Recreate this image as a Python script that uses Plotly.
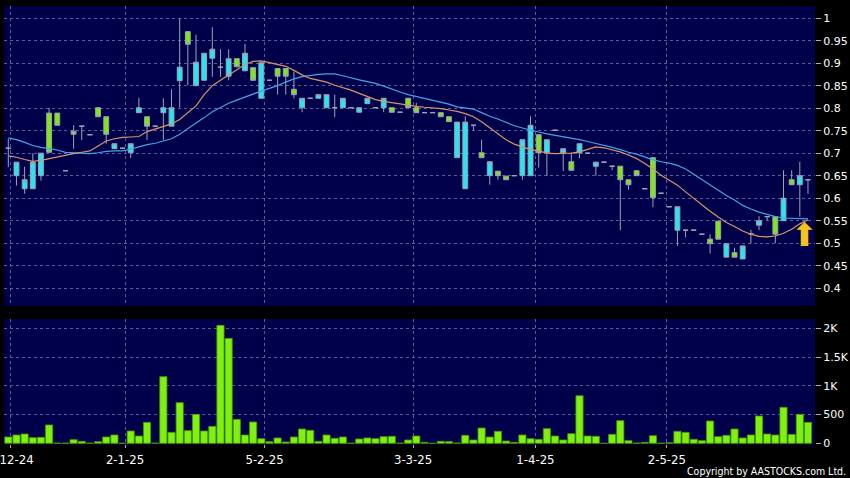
import plotly.graph_objects as go
from plotly.subplots import make_subplots

# ---------------- data ----------------
opens = [0.711, 0.650, 0.621, 0.621, 0.650, 0.789, 0.789, 0.661, 0.749, 0.760,
         0.741, 0.801, 0.781, 0.710, 0.711, 0.701, 0.790, 0.781, 0.760, 0.790,
         0.760, 0.861, 0.970, 0.850, 0.862, 0.911, 0.891, 0.871, 0.910, 0.883,
         0.890, 0.822, 0.862, 0.888, 0.888, 0.842, 0.801, 0.822, 0.822, 0.801,
         0.801, 0.801, 0.801, 0.791, 0.810, 0.801, 0.801, 0.801, 0.791, 0.822,
         0.801, 0.790, 0.790, 0.790, 0.781, 0.690, 0.621, 0.762, 0.701, 0.650,
         0.660, 0.649, 0.650, 0.650, 0.650, 0.741, 0.701, 0.751, 0.701, 0.681,
         0.701, 0.700, 0.671, 0.680, 0.671, 0.671, 0.641, 0.661, 0.621, 0.690,
         0.611, 0.581, 0.529, 0.529, 0.529, 0.520, 0.509, 0.549, 0.469, 0.479,
         0.465, 0.521, 0.540, 0.559, 0.559, 0.550, 0.641, 0.630, 0.641]
highs = [0.732, 0.680, 0.670, 0.700, 0.700, 0.801, 0.789, 0.661, 0.762, 0.760,
         0.741, 0.801, 0.781, 0.721, 0.711, 0.721, 0.823, 0.781, 0.760, 0.822,
         0.842, 1.000, 0.970, 0.963, 0.922, 0.980, 0.931, 0.931, 0.910, 0.943,
         0.890, 0.901, 0.862, 0.888, 0.888, 0.881, 0.822, 0.822, 0.830, 0.830,
         0.830, 0.822, 0.801, 0.801, 0.822, 0.801, 0.822, 0.801, 0.791, 0.822,
         0.812, 0.790, 0.790, 0.790, 0.781, 0.769, 0.782, 0.762, 0.730, 0.681,
         0.660, 0.649, 0.650, 0.730, 0.782, 0.741, 0.730, 0.751, 0.710, 0.701,
         0.721, 0.700, 0.680, 0.680, 0.671, 0.671, 0.641, 0.661, 0.621, 0.690,
         0.611, 0.581, 0.581, 0.529, 0.529, 0.520, 0.520, 0.549, 0.499, 0.490,
         0.494, 0.530, 0.560, 0.559, 0.559, 0.662, 0.662, 0.681, 0.641]
lows = [0.669, 0.628, 0.610, 0.621, 0.639, 0.702, 0.762, 0.661, 0.710, 0.729,
        0.741, 0.781, 0.721, 0.710, 0.711, 0.689, 0.790, 0.729, 0.760, 0.729,
        0.760, 0.801, 0.851, 0.850, 0.862, 0.870, 0.870, 0.862, 0.892, 0.883,
        0.862, 0.822, 0.862, 0.830, 0.830, 0.822, 0.791, 0.822, 0.822, 0.801,
        0.780, 0.801, 0.801, 0.791, 0.810, 0.801, 0.791, 0.791, 0.791, 0.801,
        0.790, 0.790, 0.790, 0.781, 0.770, 0.690, 0.621, 0.751, 0.690, 0.630,
        0.641, 0.641, 0.650, 0.641, 0.650, 0.668, 0.649, 0.751, 0.660, 0.662,
        0.689, 0.700, 0.650, 0.680, 0.662, 0.529, 0.619, 0.650, 0.621, 0.580,
        0.611, 0.581, 0.494, 0.513, 0.529, 0.520, 0.477, 0.509, 0.469, 0.469,
        0.465, 0.499, 0.529, 0.550, 0.500, 0.550, 0.630, 0.559, 0.610]
closes = [0.711, 0.680, 0.641, 0.680, 0.700, 0.702, 0.762, 0.661, 0.742, 0.760,
          0.741, 0.781, 0.742, 0.721, 0.711, 0.721, 0.801, 0.760, 0.760, 0.801,
          0.801, 0.891, 0.942, 0.902, 0.922, 0.931, 0.891, 0.910, 0.892, 0.922,
          0.862, 0.901, 0.862, 0.871, 0.871, 0.830, 0.822, 0.822, 0.830, 0.830,
          0.801, 0.822, 0.801, 0.801, 0.822, 0.801, 0.822, 0.791, 0.791, 0.801,
          0.790, 0.790, 0.790, 0.781, 0.770, 0.769, 0.769, 0.762, 0.690, 0.681,
          0.650, 0.641, 0.650, 0.730, 0.762, 0.701, 0.730, 0.751, 0.710, 0.662,
          0.721, 0.700, 0.680, 0.680, 0.671, 0.641, 0.630, 0.650, 0.621, 0.601,
          0.611, 0.581, 0.581, 0.529, 0.529, 0.520, 0.499, 0.509, 0.499, 0.469,
          0.494, 0.521, 0.550, 0.559, 0.520, 0.600, 0.630, 0.650, 0.641]
volumes = [110, 145, 162, 98, 104, 319, 5, 5, 64, 35,
           3, 29, 110, 145, 3, 214, 127, 365, 3, 1159,
           191, 707, 220, 504, 214, 295, 2051, 1825, 417, 145,
           371, 81, 29, 93, 23, 110, 249, 226, 35, 145,
           87, 110, 3, 75, 93, 81, 116, 122, 3, 58,
           127, 17, 0, 35, 30, 5, 139, 58, 266, 110,
           209, 40, 17, 145, 81, 70, 255, 127, 58, 168,
           828, 127, 122, 0, 156, 394, 46, 5, 17, 133,
           3, 10, 209, 191, 70, 46, 388, 116, 139, 249,
           93, 145, 475, 162, 145, 626, 156, 504, 365]
ma_short = [0.694, 0.691, 0.686, 0.682, 0.684, 0.688, 0.692, 0.696, 0.699, 0.702,
            0.705, 0.716, 0.727, 0.732, 0.735, 0.736, 0.737, 0.748, 0.754, 0.759,
            0.765, 0.775, 0.790, 0.805, 0.830, 0.850, 0.862, 0.874, 0.886, 0.897,
            0.904, 0.905, 0.901, 0.897, 0.893, 0.884, 0.874, 0.866, 0.862, 0.858,
            0.851, 0.846, 0.840, 0.833, 0.826, 0.819, 0.815, 0.812, 0.810, 0.806,
            0.804, 0.802, 0.801, 0.799, 0.796, 0.793, 0.788, 0.781, 0.770, 0.757,
            0.744, 0.730, 0.720, 0.714, 0.708, 0.705, 0.700, 0.699, 0.700, 0.700,
            0.703, 0.709, 0.714, 0.712, 0.708, 0.703, 0.696, 0.688, 0.677, 0.665,
            0.651, 0.640, 0.629, 0.614, 0.599, 0.584, 0.571, 0.558, 0.546, 0.537,
            0.527, 0.520, 0.515, 0.514, 0.516, 0.522, 0.531, 0.543, 0.552]
ma_long = [0.734, 0.730, 0.724, 0.717, 0.713, 0.710, 0.707, 0.702, 0.701, 0.700,
           0.699, 0.701, 0.704, 0.705, 0.705, 0.709, 0.714, 0.719, 0.722, 0.727,
           0.732, 0.742, 0.755, 0.766, 0.779, 0.792, 0.802, 0.811, 0.818, 0.825,
           0.831, 0.838, 0.844, 0.850, 0.858, 0.865, 0.870, 0.873, 0.875, 0.876,
           0.876, 0.872, 0.867, 0.863, 0.859, 0.855, 0.849, 0.842, 0.836, 0.830,
           0.826, 0.822, 0.818, 0.814, 0.809, 0.803, 0.800, 0.798, 0.790, 0.782,
           0.776, 0.769, 0.761, 0.756, 0.751, 0.747, 0.743, 0.740, 0.736, 0.733,
           0.730, 0.726, 0.722, 0.718, 0.713, 0.708, 0.702, 0.698, 0.691, 0.685,
           0.681, 0.678, 0.673, 0.665, 0.653, 0.641, 0.629, 0.618, 0.606, 0.596,
           0.584, 0.576, 0.569, 0.564, 0.559, 0.556, 0.555, 0.554, 0.554]

date_tick_pos = [0.3, 14.3, 31.4, 49.6, 64.6, 80.7]
date_tick_text = ["2-12-24", "2-1-25", "5-2-25", "3-3-25", "1-4-25", "2-5-25"]
price_ticks = [0.4, 0.45, 0.5, 0.55, 0.6, 0.65, 0.7, 0.75, 0.8, 0.85, 0.9, 0.95, 1.0]
price_tick_text = ["0.4", "0.45", "0.5", "0.55", "0.6", "0.65", "0.7", "0.75",
                   "0.8", "0.85", "0.9", "0.95", "1"]
vol_ticks = [0, 500, 1000, 1500, 2000]
vol_tick_text = ["0", "500", "1K", "1.5K", "2K"]

idx = list(range(len(closes)))

# ---------------- figure ----------------
fig = make_subplots(rows=2, cols=1, shared_xaxes=True)

fig.add_trace(go.Candlestick(
    x=idx, open=opens, high=highs, low=lows, close=closes,
    increasing=dict(fillcolor="#26E6F2", line=dict(color="#9AA4B2", width=1)),
    decreasing=dict(fillcolor="#7EE812", line=dict(color="#9AA4B2", width=1)),
    whiskerwidth=0, showlegend=False, hoverinfo="skip"), row=1, col=1)

fig.add_trace(go.Scatter(x=idx, y=ma_long, mode="lines",
                         line=dict(color="#3DA6E6", width=1.2),
                         showlegend=False, hoverinfo="skip"), row=1, col=1)
fig.add_trace(go.Scatter(x=idx, y=ma_short, mode="lines",
                         line=dict(color="#D9946A", width=1.2),
                         showlegend=False, hoverinfo="skip"), row=1, col=1)

fig.add_trace(go.Bar(x=idx, y=volumes, width=0.88,
                     marker=dict(color="#80F00C", line=dict(color="#3F9A0C", width=0.8)),
                     showlegend=False, hoverinfo="skip"), row=2, col=1)

grid = dict(showgrid=True, gridcolor="#5C5C9A", gridwidth=1, griddash="3px,3px",
            zeroline=False, showline=False, automargin=False)
tickfont = dict(family="DejaVu Sans", size=11, color="#FFFFFF")
datefont = dict(family="DejaVu Sans Condensed, DejaVu Sans", size=13, color="#FFFFFF")

fig.update_layout(
    template="none",
    width=850, height=478,
    margin=dict(l=4, r=35, t=6, b=34, autoexpand=False),
    paper_bgcolor="#000000", plot_bgcolor="#00004A",
    boxgap=0.15, bargap=0.1,
    font=dict(family="DejaVu Sans", size=11, color="#FFFFFF"),
    xaxis=dict(domain=[0, 1], range=[-0.53, 98.86], tickvals=date_tick_pos,
               ticktext=date_tick_text, showticklabels=False, ticks="",
               rangeslider=dict(visible=False), **grid),
    xaxis2=dict(domain=[0, 1], range=[-0.53, 98.86], tickvals=date_tick_pos,
                ticktext=date_tick_text, ticks="outside", ticklen=3,
                tickcolor="#B0B0B0", tickfont=datefont,
                ticklabeloverflow="allow", **grid),
    yaxis=dict(domain=[0.3151, 1], range=[0.3605, 1.027], side="right",
               tickvals=price_ticks, ticktext=price_tick_text, ticks="outside",
               ticklen=5, tickcolor="#B0B0B0", tickfont=tickfont,
               ticklabeloverflow="allow", **grid),
    yaxis2=dict(domain=[0, 0.2854], range=[-12, 2162], side="right",
                tickvals=vol_ticks, ticktext=vol_tick_text, ticks="outside",
                ticklen=5, tickcolor="#B0B0B0", tickfont=tickfont,
                ticklabeloverflow="allow", **grid),
)

fig.add_annotation(xref="x", yref="y", x=97.6, y=0.519, text="⬆",
                   showarrow=False, font=dict(family="DejaVu Sans", size=32, color="#F7C21C"))
fig.add_annotation(xref="paper", yref="paper", x=1.0405, y=-0.061,
                   xanchor="right", yanchor="middle",
                   text="Copyright by AASTOCKS.com Ltd.", showarrow=False,
                   font=dict(family="DejaVu Sans Condensed, DejaVu Sans", size=10.5,
                             color="#FFFFFF"))

fig.write_html(
    "out.html",
    config={"displayModeBar": False},
    post_script="document.body.style.margin='0';document.body.style.background='#000';",
)
